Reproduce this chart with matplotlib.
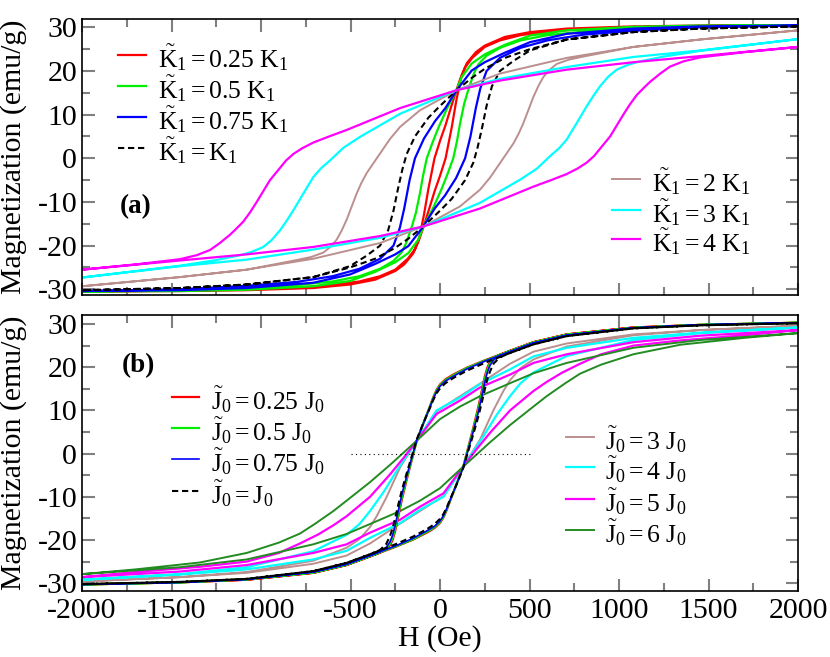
import numpy as np
import matplotlib
matplotlib.use('Agg')
import matplotlib.pyplot as plt
from matplotlib.ticker import MultipleLocator

plt.rcParams['font.family'] = ['Liberation Serif', 'DejaVu Serif']
plt.rcParams['mathtext.fontset'] = 'custom'
plt.rcParams['mathtext.rm'] = 'Liberation Serif'
plt.rcParams['mathtext.it'] = 'Liberation Serif:italic'
plt.rcParams['mathtext.bf'] = 'Liberation Serif:bold'
plt.rcParams['axes.unicode_minus'] = False

# ---- panel (a): descending branches (H from +2000 to -2000)
k025_h = [2000, 1453, 1080, 708, 503, 363, 250, 200, 150, 120, 93, 60, 30, 0, -31, -65, -90, -115, -140, -180, -250, -335, -450, -600, -800, -1080, -1453, -2000]
k025_m = [30.5, 30.4, 30.2, 29.7, 28.9, 27.8, 25.8, 24.3, 21.8, 19.0, 15.8, 11.5, 7.5, 4.0, 0.0, -7.0, -13.0, -18.0, -20.8, -23.0, -25.5, -27.0, -28.2, -29.0, -29.6, -30.0, -30.3, -30.5]

k050_h = [2000, 1453, 1080, 708, 503, 363, 250, 177, 121, 93, 40, -9, -40, -74, -95, -112, -135, -158, -190, -214, -260, -335, -450, -600, -800, -1080, -1453, -2000]
k050_m = [30.5, 30.4, 30.1, 29.3, 28.1, 26.0, 23.8, 21.7, 18.6, 15.6, 11.5, 7.0, 3.8, 0.0, -4.0, -8.0, -12.5, -15.7, -19.5, -21.5, -23.5, -25.3, -27.0, -28.2, -29.0, -29.7, -30.2, -30.5]

k075_h = [2000, 1453, 1080, 708, 503, 363, 250, 177, 93, 30, -28, -90, -140, -170, -200, -225, -260, -335, -450, -600, -800, -1080, -1453, -2000]
k075_m = [30.4, 30.2, 29.7, 28.5, 26.6, 24.2, 22.0, 20.1, 15.6, 11.5, 8.5, 4.5, 0.0, -5.0, -11.5, -16.0, -20.0, -23.0, -25.3, -27.0, -28.3, -29.2, -30.0, -30.4]

k100_h = [2000, 1453, 1080, 708, 503, 363, 250, 177, 93, 0, -65, -140, -186, -210, -235, -260, -290, -335, -410, -503, -708, -1080, -1453, -2000]
k100_m = [30.2, 29.7, 28.9, 27.2, 25.0, 23.0, 20.5, 18.4, 15.6, 12.0, 9.3, 5.0, 1.0, -2.5, -7.0, -12.0, -16.5, -20.0, -22.3, -24.7, -27.2, -28.9, -29.7, -30.2]

k200_h = [2000, 1453, 1080, 708, 335, 93, -112, -223, -280, -335, -380, -410, -440, -465, -495, -521, -550, -577, -610, -652, -720, -801, -1080, -1453, -2000]
k200_m = [29.3, 27.2, 25.5, 23.0, 19.4, 15.6, 11.0, 7.2, 4.4, 1.1, -1.6, -3.4, -5.7, -8.0, -11.2, -14.0, -16.6, -18.6, -20.2, -21.6, -22.6, -23.3, -25.5, -27.2, -29.3]

k300_h = [2000, 1453, 1080, 708, 335, 93, -223, -447, -540, -615, -665, -708, -764, -819, -860, -894, -940, -987, -1050, -1117, -1250, -1453, -2000]
k300_m = [27.3, 24.7, 23.2, 20.9, 18.2, 15.6, 10.2, 4.9, 2.4, -0.5, -2.3, -4.3, -8.1, -11.9, -14.5, -16.5, -18.7, -20.3, -21.4, -22.2, -23.3, -24.6, -27.3]

k400_h = [2000, 1453, 1080, 708, 335, 93, -223, -521, -620, -708, -770, -819, -860, -894, -950, -1024, -1060, -1099, -1140, -1173, -1230, -1285, -1360, -1453, -1700, -2000]
k400_m = [25.5, 23.4, 22.0, 20.3, 17.8, 15.6, 11.5, 6.5, 5.0, 3.6, 2.3, 1.0, -0.5, -2.2, -5.0, -10.0, -12.3, -14.5, -16.2, -17.5, -19.4, -21.0, -22.2, -23.1, -24.3, -25.5]

# ---- panel (b)
jsmall_h = [2000, 1453, 1080, 708, 522, 391, 250, 150, 74, 30, 0, -19, -40, -56, -93, -130, -158, -186, -214, -233, -251, -265, -279, -300, -335, -391, -522, -708, -1080, -1453, -2000]
j025_m = [30.3, 29.8, 29.2, 27.6, 25.8, 23.8, 21.6, 19.9, 18.3, 17.2, 16.0, 14.8, 12.8, 11.0, 7.0, 3.0, -1.5, -6.0, -10.8, -14.5, -18.0, -20.0, -21.2, -22.1, -22.9, -23.8, -25.8, -27.6, -29.2, -29.8, -30.3]
j050_m = [30.3, 29.8, 29.1, 27.5, 25.7, 23.7, 21.5, 19.8, 18.1, 17.0, 15.8, 14.6, 12.6, 10.9, 7.0, 3.0, -1.3, -5.6, -10.2, -13.9, -17.4, -19.5, -20.8, -21.9, -22.8, -23.7, -25.7, -27.5, -29.1, -29.8, -30.3]
j075_m = [30.3, 29.8, 29.1, 27.4, 25.6, 23.6, 21.4, 19.6, 17.9, 16.8, 15.6, 14.4, 12.5, 10.8, 7.0, 3.1, -1.0, -5.2, -9.6, -13.2, -16.7, -18.9, -20.4, -21.7, -22.7, -23.6, -25.6, -27.4, -29.1, -29.8, -30.3]
j100_m = [30.2, 29.7, 29.0, 27.2, 25.3, 23.3, 21.0, 19.2, 17.5, 16.3, 15.1, 14.0, 12.2, 10.6, 7.1, 3.3, -0.6, -4.5, -8.6, -11.8, -15.0, -17.3, -19.0, -20.9, -22.3, -23.3, -25.3, -27.2, -29.0, -29.7, -30.2]

j300_h = [2000, 1453, 1080, 708, 522, 391, 223, 112, -19, -130, -223, -298, -354, -391, -450, -522, -708, -1080, -1453, -2000]
j300_m = [29.6, 28.6, 27.6, 25.5, 23.6, 20.8, 16.2, 13.3, 9.8, 3.0, -3.2, -10.0, -14.5, -17.0, -19.8, -21.8, -24.8, -27.4, -28.6, -29.6]

j400_h = [2000, 1453, 1080, 708, 522, 391, 223, 112, -19, -130, -242, -317, -391, -450, -522, -708, -1080, -1453, -2000]
j400_m = [29.2, 28.0, 26.8, 24.5, 22.5, 19.5, 16.1, 13.0, 10.0, 3.0, -4.0, -9.0, -13.3, -16.3, -18.8, -22.6, -26.3, -27.9, -29.2]

j500_h = [2000, 1453, 1080, 708, 522, 391, 223, 112, -19, -130, -200, -279, -391, -522, -596, -680, -782, -900, -1080, -1341, -1700, -2000]
j500_m = [28.6, 27.3, 25.8, 23.0, 21.0, 18.3, 15.3, 12.3, 9.2, 3.0, -0.8, -4.8, -10.0, -14.5, -16.6, -18.7, -20.8, -23.0, -25.0, -26.2, -27.4, -28.6]

j600_h = [2000, 1453, 1080, 708, 522, 391, 223, 112, 0, -130, -279, -391, -522, -596, -700, -782, -900, -1080, -1341, -1700, -2000]
j600_m = [27.9, 26.3, 24.5, 21.0, 18.6, 16.3, 13.3, 10.9, 8.0, 3.0, -2.6, -6.6, -10.9, -13.3, -16.3, -18.5, -20.6, -23.0, -25.2, -26.8, -27.9]

zero_h = [-500, 500]
zero_m = [0, 0]

k_labels = ['0.25 K_1', '0.5 K_1', '0.75 K_1', 'K_1', '2 K_1', '3 K_1', '4 K_1']
j_labels = ['0.25 J_0', '0.5 J_0', '0.75 J_0', 'J_0', '3 J_0', '4 J_0', '5 J_0', '6 J_0']


def loop(h, m):
    # the rising branch is the point reflection of the falling one
    h = np.asarray(h, float)
    m = np.asarray(m, float)
    return np.concatenate([h, -h]), np.concatenate([m, -m])


def mlabel(sym, sub, txt):
    txt = txt.replace(' ' + sym, r'\ ' + sym).replace(sym + '_' + sub, r'\mathrm{' + sym + '}_' + sub)
    return r'$\tilde{\mathrm{' + sym + '}}_' + sub + ' = ' + txt + '$'


def key(ax, x, y, label, **style):
    ax.plot([x, x + 0.039], [y, y], transform=ax.transAxes, **style)
    ax.text(x + 0.0555, y - 0.045, label, transform=ax.transAxes,
            fontsize=18.5, va='baseline', ha='left')


dash = (0, (3.0, 1.8))
red = dict(color='#ff0000', lw=1.6)
green = dict(color='#00ee00', lw=1.6)
blue = dict(color='#0000ff', lw=1.6)
black = dict(color='black', lw=1.5, ls=dash)
brown = dict(color='#bc8f8f', lw=1.4)
cyan = dict(color='#00ffff', lw=1.6)
magenta = dict(color='#ff00ff', lw=1.6)
dgreen = dict(color='#228b22', lw=1.4)

fig = plt.figure(figsize=(8.3, 6.57), dpi=100)
ax1 = fig.add_axes([0.0988, 0.551, 0.8627, 0.4201])
ax2 = fig.add_axes([0.0988, 0.1005, 0.8627, 0.4201])

top = [(k025_h, k025_m, red), (k050_h, k050_m, green), (k075_h, k075_m, blue),
       (k100_h, k100_m, black), (k200_h, k200_m, brown), (k300_h, k300_m, cyan),
       (k400_h, k400_m, magenta)]
for h, m, st in top:
    x, y = loop(h, m)
    ax1.plot(x, y, **st)

bottom = [(jsmall_h, j025_m, red), (jsmall_h, j050_m, green),
          (jsmall_h, j075_m, dict(blue, lw=1.2)), (jsmall_h, j100_m, black),
          (j300_h, j300_m, brown), (j400_h, j400_m, cyan),
          (j500_h, j500_m, magenta), (j600_h, j600_m, dgreen)]
for h, m, st in bottom[4:] + bottom[:4]:
    x, y = loop(h, m)
    ax2.plot(x, y, **st)
ax2.plot(zero_h, zero_m, color='black', lw=0.8, ls=(0, (1, 3)))

for ax in (ax1, ax2):
    ax.set_xlim(-2000, 2000)
    ax.xaxis.set_major_locator(MultipleLocator(500))
    ax.xaxis.set_minor_locator(MultipleLocator(250))
    ax.yaxis.set_major_locator(MultipleLocator(10))
    ax.yaxis.set_minor_locator(MultipleLocator(5))
    ax.tick_params(which='both', direction='in', top=True, right=True,
                   color='#808080', labelsize=21.5, width=1.5)
    ax.tick_params(which='major', length=9)
    ax.tick_params(which='minor', length=5.5)
    ax.tick_params(axis='y', pad=3.5)
    ax.tick_params(axis='x', pad=5)
    for s in ax.spines.values():
        s.set_linewidth(1.2)
    ax.set_ylabel('Magnetization (emu/g)', fontsize=21.5)
    ax.yaxis.set_label_coords(-0.077, 0.5)

ax1.set_ylim(-31.3, 31.9)
ax2.set_ylim(-31.8, 32.1)
ax1.tick_params(labelbottom=False)
ax2.set_xlabel('H (Oe)', fontsize=21.5)
ax2.xaxis.set_label_coords(0.5, -0.125)

# panel (a) keys
ky1 = [0.8696, 0.757, 0.646, 0.534]
for (h, m, st), lab, y in zip(top[:4], k_labels[:4], ky1):
    key(ax1, 0.0503, y, mlabel('K', '1', lab), **st)
ky2 = [0.420, 0.308, 0.202]
for (h, m, st), lab, y in zip(top[4:], k_labels[4:], ky2):
    key(ax1, 0.740, y, mlabel('K', '1', lab), **st)
ax1.text(0.053, 0.319, '(a)', transform=ax1.transAxes, fontsize=19.5,
         fontweight='bold', va='center')

jy1 = [0.704, 0.592, 0.477, 0.362]
for (h, m, st), lab, y in zip(bottom[:4], j_labels[:4], jy1):
    key(ax2, 0.125, y, mlabel('J', '0', lab), **st)
jy2 = [0.559, 0.450, 0.333, 0.221]
for (h, m, st), lab, y in zip(bottom[4:], j_labels[4:], jy2):
    key(ax2, 0.6755, y, mlabel('J', '0', lab), **st)
ax2.text(0.056, 0.815, '(b)', transform=ax2.transAxes, fontsize=19.5,
         fontweight='bold', va='center')

fig.savefig('out.png', dpi=100)
